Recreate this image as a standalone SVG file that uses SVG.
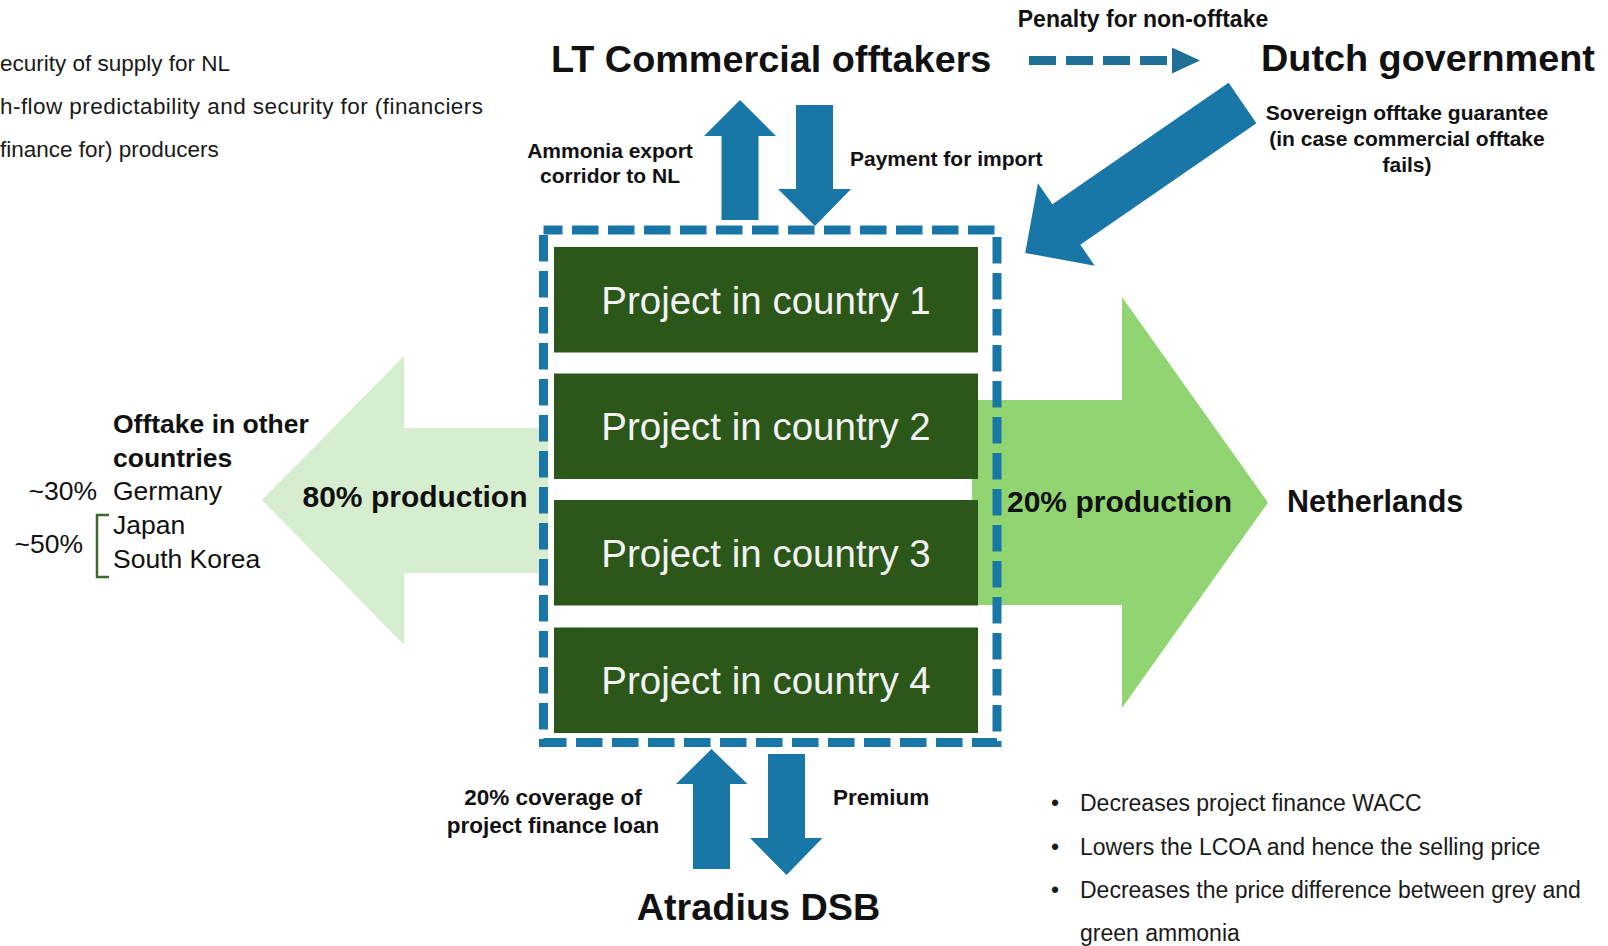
<svg xmlns="http://www.w3.org/2000/svg" width="1608" height="946" viewBox="0 0 1608 946">
  <style>
    text { font-family: "Liberation Sans", Arial, sans-serif; fill: #111111; }
    .b { font-weight: bold; }
    .big { font-size: 37.8px; font-weight: bold; }
    .lbl { font-size: 21px; font-weight: bold; }
    .lbl2 { font-size: 22.5px; font-weight: bold; }
    .note { font-size: 22.5px; fill: #1a1a1a; }
    .bul { font-size: 23px; fill: #1a1a1a; }
    .proj-box { fill: #2b5719; }
    .proj-txt { font-size: 38.5px; fill: #f2f2f2; text-anchor: middle; }
    .blue { fill: #1877a6; }
    .pct { font-size: 26.5px; }
  </style>

  <!-- Top-left notes (cut off at left edge in the picture) -->
  <g id="notes-top-left">
    <text class="note" x="0" y="71">ecurity of supply for NL</text>
    <text class="note" x="0" y="114" textLength="483" lengthAdjust="spacing">h-flow predictability and security for (financiers</text>
    <text class="note" x="0" y="157">finance for) producers</text>
  </g>

  <!-- Connectors -->
  <g id="connectors">
    <!-- light green 80% arrow to the left -->
    <polygon id="arrow-80" fill="#d6edcf" points="262,500 404,356 404,428 548,428 548,573 404,573 404,645"/>
    <!-- green 20% arrow to the right -->
    <polygon id="arrow-20" fill="#90d571" points="972,400 1122,400 1122,297 1268,502.5 1122,708 1122,605 972,605"/>

    <!-- LT commercial offtakers arrows -->
    <polygon class="blue" points="740,100 776,136 758.5,136 758.5,220 721.5,220 721.5,136 704,136"/>
    <polygon class="blue" points="796,105 833,105 833,189 851,189 815,226 778,189 796,189"/>

    <!-- Atradius arrows -->
    <polygon class="blue" points="711.5,749 747.5,784 730,784 730,869 693,869 693,784 676,784"/>
    <polygon class="blue" points="768,754 805,754 805,838 822.5,838 786.5,875 750,838 768,838"/>

    <!-- Dutch government guarantee arrow -->
    <polygon class="blue" transform="translate(1242.5,103) rotate(145.4)" points="0,-24.5 214,-24.5 214,-50 264,0 214,50 214,24.5 0,24.5"/>

    <!-- Penalty dashed arrow -->
    <line x1="1029" y1="60.5" x2="1168" y2="60.5" stroke="#1f6f96" stroke-width="9" stroke-dasharray="27 10"/>
    <polygon fill="#1f6f96" points="1172,47.5 1200,60.5 1172,73.5"/>
  </g>

  <!-- Projects -->
  <g id="projects">
    <g id="project-1">
      <rect class="proj-box" x="554" y="247" width="424" height="105.5"/>
      <text class="proj-txt" x="766" y="313.5">Project in country 1</text>
    </g>
    <g id="project-2">
      <rect class="proj-box" x="554" y="373.5" width="424" height="105.5"/>
      <text class="proj-txt" x="766" y="440">Project in country 2</text>
    </g>
    <g id="project-3">
      <rect class="proj-box" x="554" y="500" width="424" height="105.5"/>
      <text class="proj-txt" x="766" y="566.5">Project in country 3</text>
    </g>
    <g id="project-4">
      <rect class="proj-box" x="554" y="627.5" width="424" height="105.5"/>
      <text class="proj-txt" x="766" y="694">Project in country 4</text>
    </g>
    <rect id="project-boundary" x="543.5" y="230" width="453.5" height="512.5" fill="none" stroke="#1877a6" stroke-width="9" stroke-dasharray="26.5 9.5" stroke-dashoffset="7.5"/>
  </g>

  <!-- Nodes -->
  <g id="lt-offtakers">
    <text class="big" x="551" y="72">LT Commercial offtakers</text>
  </g>
  <g id="dutch-government">
    <text class="big" x="1261" y="71">Dutch government</text>
  </g>
  <g id="atradius">
    <text class="big" x="758.5" y="920" text-anchor="middle">Atradius DSB</text>
  </g>
  <g id="netherlands">
    <text class="b" x="1287" y="512" font-size="30.5">Netherlands</text>
  </g>
  <g id="offtake-other">
    <text class="b" x="113" y="433" font-size="26.5">Offtake in other</text>
    <text class="b" x="113" y="467" font-size="26.5">countries</text>
    <text class="pct" x="97" y="500" text-anchor="end">~30%</text>
    <text class="pct" x="113" y="500">Germany</text>
    <text class="pct" x="113" y="534">Japan</text>
    <text class="pct" x="113" y="568">South Korea</text>
    <text class="pct" x="83" y="553" text-anchor="end">~50%</text>
    <path d="M109,515 H97 V577 H109" fill="none" stroke="#3a6b2b" stroke-width="2.5"/>
  </g>

  <!-- Connector labels -->
  <g id="labels">
    <text class="lbl" x="1143" y="27" text-anchor="middle" style="font-size:23px">Penalty for non-offtake</text>
    <text class="lbl" x="1407" y="120" text-anchor="middle">Sovereign offtake guarantee</text>
    <text class="lbl" x="1407" y="146" text-anchor="middle">(in case commercial offtake</text>
    <text class="lbl" x="1407" y="172" text-anchor="middle">fails)</text>
    <text class="lbl" x="610" y="158" text-anchor="middle">Ammonia export</text>
    <text class="lbl" x="610" y="183" text-anchor="middle">corridor to NL</text>
    <text class="lbl" x="850" y="166">Payment for import</text>
    <text class="b" x="302.5" y="507" font-size="30">80% production</text>
    <text class="b" x="1007" y="512" font-size="30">20% production</text>
    <text class="lbl2" x="553" y="805" text-anchor="middle">20% coverage of</text>
    <text class="lbl2" x="553" y="833" text-anchor="middle">project finance loan</text>
    <text class="lbl2" x="833" y="805">Premium</text>
  </g>

  <!-- Bottom-right bullet notes -->
  <g id="notes-bottom-right">
    <text class="bul" x="1051" y="811">•</text>
    <text class="bul" x="1080" y="811">Decreases project finance WACC</text>
    <text class="bul" x="1051" y="855">•</text>
    <text class="bul" x="1080" y="855">Lowers the LCOA and hence the selling price</text>
    <text class="bul" x="1051" y="898">•</text>
    <text class="bul" x="1080" y="898">Decreases the price difference between grey and</text>
    <text class="bul" x="1080" y="941">green ammonia</text>
  </g>
</svg>
